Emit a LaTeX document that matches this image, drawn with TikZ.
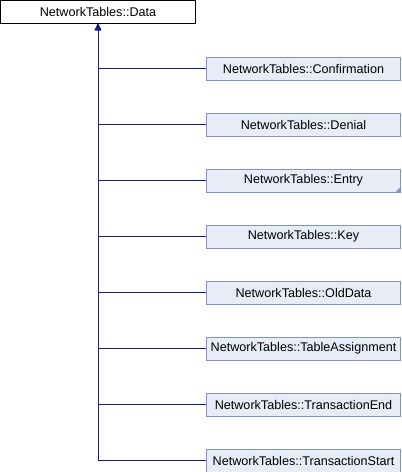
\documentclass[tikz,border=0pt]{standalone}
\usepackage{fontspec}
\setmainfont{Liberation Sans}
\usetikzlibrary{arrows.meta}
\definecolor{edgecol}{RGB}{25,25,140}
\definecolor{boxfill}{RGB}{232,236,246}
\definecolor{boxline}{RGB}{124,149,196}
\tikzset{
  basebox/.style={draw=black, fill=white, line width=1pt, minimum width=195pt, minimum height=23pt, inner sep=0pt, font=\fontsize{12.6}{14}\selectfont},
  childbox/.style={draw=boxline, fill=boxfill, line width=1pt, minimum width=194pt, minimum height=23pt, inner sep=0pt, font=\fontsize{12.6}{14}\selectfont},
  edge/.style={draw=edgecol, line width=1pt, -{Triangle[length=6pt,width=6pt]}},
}
\begin{document}
\begin{tikzpicture}[x=1pt,y=1pt]
\useasboundingbox (0,0) rectangle (402,-472);
\node[basebox] (data) at (98,-12) {NetworkTables::Data};
\node[childbox] (c1) at (303.5,-68.5) {NetworkTables::Confirmation};
\node[childbox] (c2) at (303.5,-124.5) {NetworkTables::Denial};
\node[childbox] (c3) at (303.5,-180.5) {NetworkTables::Entry};
\node[childbox] (c4) at (303.5,-236.5) {NetworkTables::Key};
\node[childbox] (c5) at (303.5,-292.5) {NetworkTables::OldData};
\node[childbox] (c6) at (303.5,-348.5) {NetworkTables::TableAssignment};
\node[childbox] (c7) at (303.5,-404.5) {NetworkTables::TransactionEnd};
\node[childbox] (c8) at (303.5,-460.5) {NetworkTables::TransactionStart};
\fill[boxline] (c3.south east) -- ++(-6,0) -- ++(6,6) -- cycle;
\foreach \c in {c1,c2,c3,c4,c5,c6,c7,c8}{
  \draw[edge] (\c.west) -| (data.south);
}
\end{tikzpicture}
\end{document}
